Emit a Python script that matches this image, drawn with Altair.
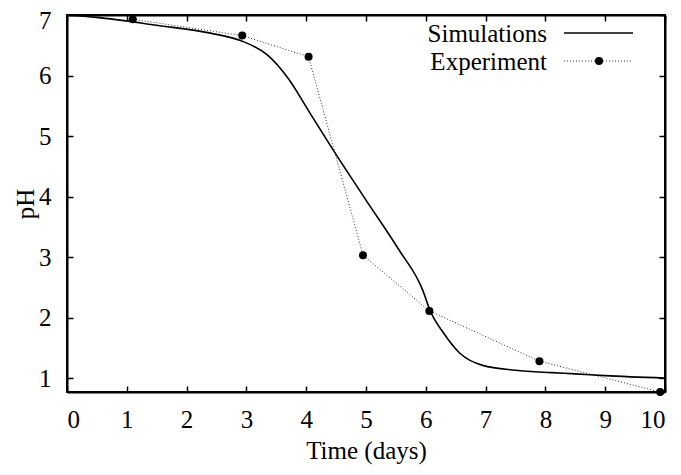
import altair as alt
import pandas as pd

# Simulation curve
sim_t = [0, 0.5, 1.5, 2.4, 2.95, 3.35, 3.7, 4.05, 4.45, 5.0, 5.55, 5.95, 6.07, 6.3, 6.57, 6.95, 7.5, 8.1, 8.5, 9.0, 10.0]
sim_ph = [7.0, 6.96, 6.83, 6.70, 6.56, 6.34, 5.95, 5.40, 4.77, 3.94, 3.12, 2.45, 2.12, 1.74, 1.41, 1.21, 1.13, 1.09, 1.07, 1.04, 1.0]

# Experimental points
exp_t = [1.10, 2.93, 4.04, 4.95, 6.06, 7.90, 9.92]
exp_ph = [6.93, 6.66, 6.31, 3.03, 2.11, 1.28, 0.77]

x_ticks = list(range(0, 11))
y_ticks = list(range(1, 8))

sim = pd.DataFrame({"t": sim_t, "ph": sim_ph})
exp = pd.DataFrame({"t": exp_t, "ph": exp_ph})

FONT = "Liberation Serif"
FS = 25

xs = alt.Scale(domain=[0, 10], nice=False)
ys = alt.Scale(domain=[0.77, 7], nice=False, zero=False)

inward = alt.ExprRef("-6")

x_bottom = alt.Axis(values=x_ticks, title="Time (days)", grid=False, tickSize=inward,
                    labelPadding=21, titlePadding=6, format="d")
y_left = alt.Axis(values=y_ticks, title="pH", grid=False, tickSize=inward,
                  labelPadding=22, titlePadding=0, format="d",
                  labelOffset=alt.condition("datum.value == 7", alt.value(5), alt.value(0)))
x_top = alt.Axis(values=x_ticks, orient="top", labels=False, title=None, grid=False, tickSize=inward)
y_right = alt.Axis(values=y_ticks, orient="right", labels=False, title=None, grid=False, tickSize=inward)

sim_line = alt.Chart(sim).mark_line(color="black", strokeWidth=1.6, interpolate="monotone").encode(
    x=alt.X("t:Q", scale=xs, axis=x_bottom),
    y=alt.Y("ph:Q", scale=ys, axis=y_left),
)

exp_line = alt.Chart(exp).mark_line(color="#333333", strokeWidth=1, strokeDash=[1, 2]).encode(
    x=alt.X("t:Q", scale=xs, axis=None),
    y=alt.Y("ph:Q", scale=ys, axis=None),
)

exp_pts = alt.Chart(exp).mark_point(filled=True, color="black", size=64, opacity=1).encode(
    x=alt.X("t:Q", scale=xs, axis=x_top),
    y=alt.Y("ph:Q", scale=ys, axis=y_right),
)

one = pd.DataFrame({"a": [0]})
leg_sim_txt = alt.Chart(one).mark_text(font=FONT, fontSize=FS, align="right", baseline="middle").encode(
    x=alt.value(480), y=alt.value(19), text=alt.value("Simulations"))
leg_exp_txt = alt.Chart(one).mark_text(font=FONT, fontSize=FS, align="right", baseline="middle").encode(
    x=alt.value(480), y=alt.value(47), text=alt.value("Experiment"))
leg_sim_line = alt.Chart(one).mark_rule(color="black", strokeWidth=1.6).encode(
    x=alt.value(497), x2=alt.value(566), y=alt.value(18))
leg_exp_line = alt.Chart(one).mark_rule(color="#333333", strokeWidth=1, strokeDash=[1, 2]).encode(
    x=alt.value(497), x2=alt.value(566), y=alt.value(46))
leg_exp_pt = alt.Chart(one).mark_point(filled=True, color="black", size=64, opacity=1).encode(
    x=alt.value(532), y=alt.value(46))

chart = alt.layer(
    exp_line, sim_line, exp_pts,
    leg_sim_txt, leg_exp_txt, leg_sim_line, leg_exp_line, leg_exp_pt,
).resolve_axis(x="independent", y="independent").properties(
    width=598, height=377,
    autosize=alt.AutoSizeParams(type="none"),
    padding={"left": 59, "top": 7, "right": 8, "bottom": 75},
).configure_view(
    stroke="black", strokeWidth=2
).configure_axis(
    labelFont=FONT, titleFont=FONT, labelFontSize=FS, titleFontSize=FS,
    labelColor="black", titleColor="black", titleFontWeight="normal",
    domainColor="black", domainWidth=2, tickColor="black", tickWidth=1.5,
)

chart.save("out.html", embed_options={"renderer": "svg", "actions": False})
